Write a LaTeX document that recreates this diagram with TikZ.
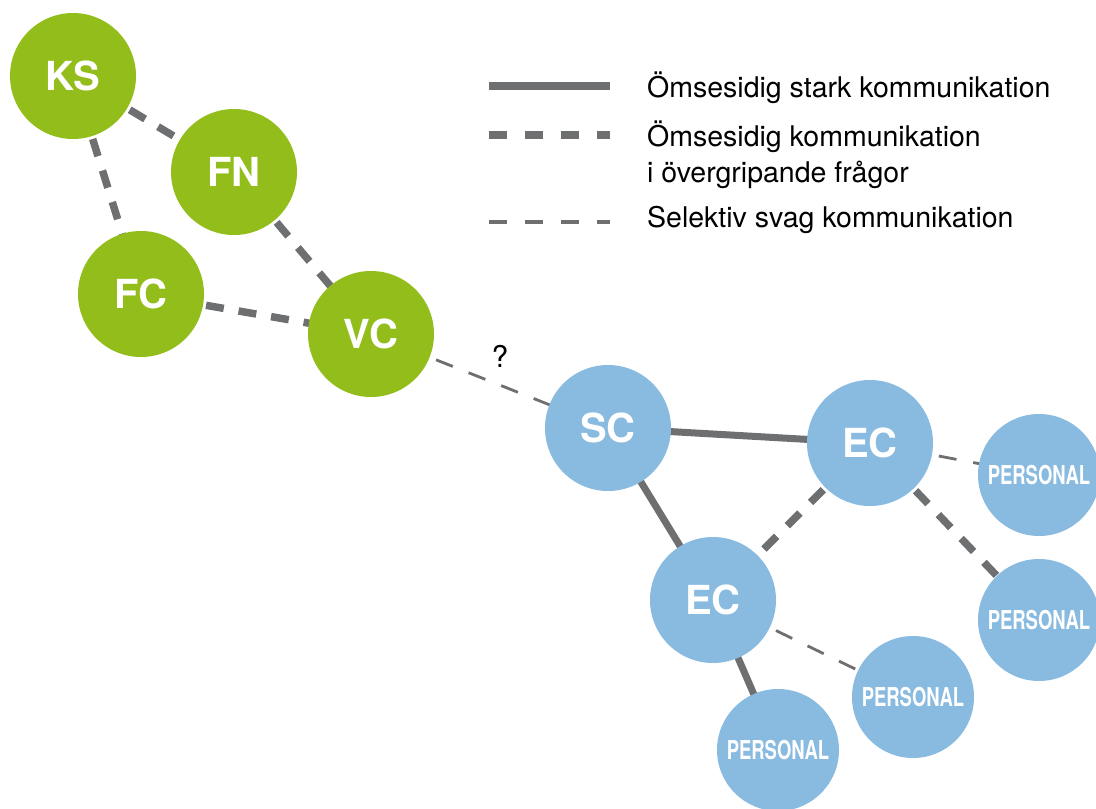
\documentclass[tikz,border=0pt]{standalone}
\usepackage{fontspec}
\setmainfont{TeX Gyre Heros}
\newfontfamily\condfont[FakeStretch=0.71]{TeX Gyre Heros}
\definecolor{orggreen}{RGB}{147,189,26}
\definecolor{orgblue}{RGB}{137,186,224}
\definecolor{linkgray}{RGB}{110,111,113}
\tikzset{
  unit/.style={circle, minimum size=126pt, inner sep=0pt, text=white},
  green unit/.style={unit, fill=orggreen, font=\fontsize{40}{40}\selectfont\bfseries},
  blue unit/.style={unit, fill=orgblue, font=\fontsize{40}{40}\selectfont\bfseries},
  staff/.style={unit, fill=orgblue, minimum size=122pt, font=\condfont\fontsize{26}{26}\selectfont\bfseries},
  strong/.style={draw=linkgray, line width=7pt},
  general/.style={draw=linkgray, line width=7.5pt, dash pattern=on 18pt off 15pt},
  weak/.style={draw=linkgray, line width=2.8pt, dash pattern=on 18pt off 17pt},
  legendtext/.style={anchor=base west, inner sep=0pt, font=\fontsize{28.5}{36}\selectfont, text=black},
}
\begin{document}
\begin{tikzpicture}[x=1pt, y=-1pt]
\useasboundingbox (0,0) rectangle (1096,809);

% coordinates of the units
\coordinate (cKS) at (73,76);
\coordinate (cFN) at (234,172);
\coordinate (cFC) at (141,294);
\coordinate (cVC) at (371,334);
\coordinate (cSC) at (608,428);
\coordinate (cECa) at (870,443);
\coordinate (cECb) at (713,600);
\coordinate (cPa) at (1039,475);
\coordinate (cPb) at (1039,620);
\coordinate (cPc) at (913,697);
\coordinate (cPd) at (778,750);

% communication links (drawn first, circles cover the ends)
\draw[general] (cKS) -- (cFN);
\draw[general] (cKS) -- (cFC);
\draw[general] (cFN) -- (cVC);
\draw[general] (cFC) -- (cVC);
\draw[weak] (cVC) -- (cSC);
\draw[strong] (cSC) -- (cECa);
\draw[strong] (cSC) -- (cECb);
\draw[general] (cECa) -- (cECb);
\draw[weak] (cECa) -- (cPa);
\draw[general] (cECa) -- (cPb);
\draw[weak] (cECb) -- (cPc);
\draw[strong] (cECb) -- (cPd);

\node[font=\fontsize{30}{30}\selectfont, inner sep=0pt] (q) at (500,356) {?};

% units
\node[green unit] (KS) at (cKS) {KS};
\node[green unit] (FN) at (cFN) {FN};
\node[green unit] (FC) at (cFC) {FC};
\node[green unit] (VC) at (cVC) {VC};
\node[blue unit] (SC) at (cSC) {SC};
\node[blue unit] (ECa) at (cECa) {EC};
\node[blue unit] (ECb) at (cECb) {EC};
\node[staff] (Pa) at (cPa) {PERSONAL};
\node[staff] (Pb) at (cPb) {PERSONAL};
\node[staff] (Pc) at (cPc) {PERSONAL};
\node[staff] (Pd) at (cPd) {PERSONAL};

% legend
\coordinate (l1a) at (489,86);  \coordinate (l1b) at (610,86);
\coordinate (l2a) at (489,135); \coordinate (l2b) at (610,135);
\coordinate (l3a) at (489,222); \coordinate (l3b) at (610,222);
\draw[strong, line width=8pt] (l1a) -- (l1b);
\draw[general, line width=8.5pt, dash pattern=on 18pt off 18pt] (l2a) -- (l2b);
\draw[weak, line width=3.5pt, dash pattern=on 18pt off 18pt] (l3a) -- (l3b);
\node[legendtext] (t1) at (647,97) {Ömsesidig stark kommunikation};
\node[legendtext] (t2) at (647,146) {Ömsesidig kommunikation};
\node[legendtext] (t2b) at (647,182) {i övergripande frågor};
\node[legendtext] (t3) at (647,227) {Selektiv svag kommunikation};
\end{tikzpicture}
\end{document}
